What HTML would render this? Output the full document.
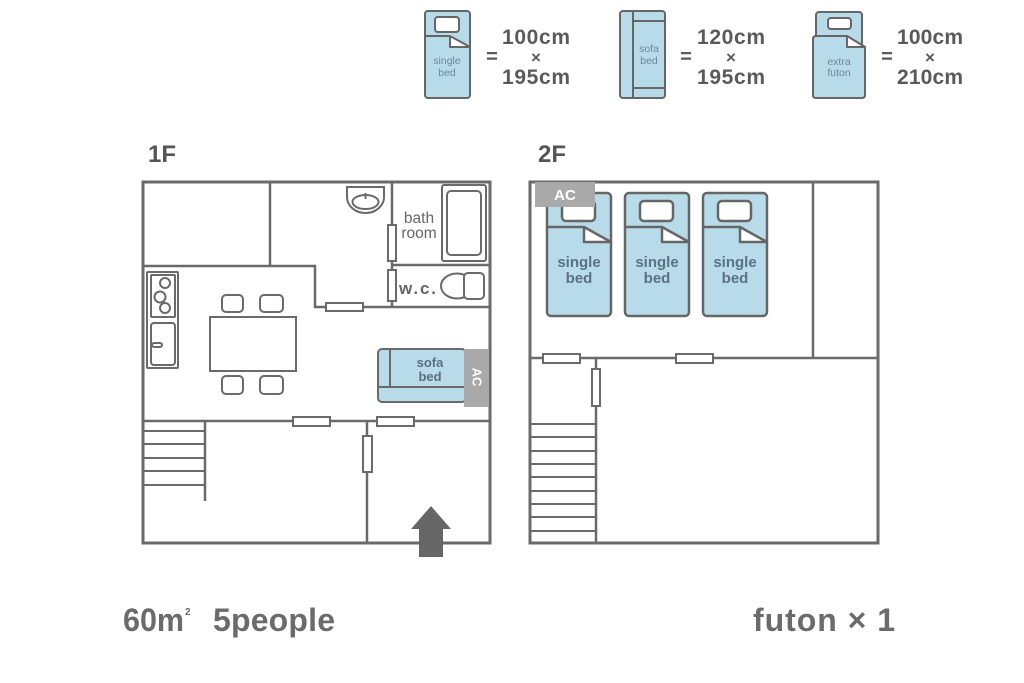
<!DOCTYPE html>
<html><head><meta charset="utf-8"><style>
html,body{margin:0;padding:0;background:#fff;}
svg{display:block;}
text{font-family:"Liberation Sans",sans-serif;}
</style></head><body>
<svg width="1024" height="683" viewBox="0 0 1024 683" xmlns="http://www.w3.org/2000/svg">
<rect width="1024" height="683" fill="#fff"/>

<!-- ===== Legend ===== -->
<g stroke="#666" stroke-width="2" stroke-linejoin="round">
  <!-- single bed -->
  <rect x="425" y="11" width="45" height="87" rx="3" fill="#b7dbe8"/>
  <rect x="435" y="17" width="24" height="15" rx="3" fill="#fff"/>
  <path d="M425 36 H450" fill="none"/>
  <path d="M450 36 L450 47 L470 47 Z" fill="#fff"/>
  <!-- sofa bed -->
  <rect x="620" y="11" width="45" height="87" rx="3" fill="#b7dbe8"/>
  <path d="M633 11 V98 M633 21 H665 M633 88 H665" fill="none"/>
  <!-- futon -->
  <rect x="816" y="12" width="46" height="40" rx="3" fill="#b7dbe8"/>
  <rect x="828" y="18" width="23" height="11" rx="3" fill="#fff"/>
  <path d="M816 36 H847 L865 47 V95 Q865 98 862 98 H816 Q813 98 813 95 V39 Q813 36 816 36 Z" fill="#b7dbe8"/>
  <path d="M847 36 L847 47 L865 47 Z" fill="#fff"/>
</g>
<g fill="#6f8799" font-size="10.5" text-anchor="middle">
  <text x="447" y="64">single</text>
  <text x="447" y="76">bed</text>
  <text x="649" y="52">sofa</text>
  <text x="649" y="64">bed</text>
  <text x="839" y="65">extra</text>
  <text x="839" y="76">futon</text>
</g>
<g fill="#5a5a5a" font-weight="bold" text-anchor="middle">
  <text x="492" y="63" font-size="20">=</text>
  <text x="536" y="44" font-size="21" textLength="68" lengthAdjust="spacing">100cm</text>
  <text x="536" y="63" font-size="17">×</text>
  <text x="536" y="84" font-size="21" textLength="68" lengthAdjust="spacing">195cm</text>

  <text x="686" y="63" font-size="20">=</text>
  <text x="731" y="44" font-size="21" textLength="68" lengthAdjust="spacing">120cm</text>
  <text x="731" y="63" font-size="17">×</text>
  <text x="731" y="84" font-size="21" textLength="68" lengthAdjust="spacing">195cm</text>

  <text x="887" y="63" font-size="20">=</text>
  <text x="930" y="44" font-size="21" textLength="66" lengthAdjust="spacing">100cm</text>
  <text x="930" y="63" font-size="17">×</text>
  <text x="930" y="84" font-size="21" textLength="66" lengthAdjust="spacing">210cm</text>
</g>

<!-- ===== Floor labels ===== -->
<g fill="#555" font-weight="bold" font-size="24">
  <text x="148" y="162">1F</text>
  <text x="538" y="162">2F</text>
</g>

<!-- ===== 1F ===== -->
<g stroke="#6a6a6a" fill="none">
  <rect x="143" y="182" width="347" height="361" stroke-width="3"/>
  <path stroke-width="2.5" d="M270 182 V266 M143 266 H315 V307 H490 M392 182 V307 M392 265 H490 M143 421 H490 M367 421 V543 M205 421 V501"/>
  <path stroke-width="2" d="M143 431 H205 M143 444 H205 M143 458 H205 M143 471 H205 M143 485 H205"/>
</g>
<g stroke="#6a6a6a" stroke-width="2" fill="#fff">
  <!-- doors -->
  <rect x="326" y="303" width="37" height="8"/>
  <rect x="388" y="225" width="8" height="36"/>
  <rect x="388" y="270" width="8" height="31"/>
  <rect x="293" y="417" width="37" height="9"/>
  <rect x="377" y="417" width="37" height="9"/>
  <rect x="363" y="436" width="9" height="36"/>
  <!-- bathtub -->
  <rect x="442" y="185" width="44" height="76" rx="2"/>
  <rect x="447" y="191" width="34" height="64" rx="4"/>
  <!-- wash basin -->
  <path d="M347 187 H384 V197 A18.5 16 0 0 1 347 197 Z"/>
  <ellipse cx="365.5" cy="202" rx="13" ry="7"/>
  <path d="M365.5 193 V199" fill="none"/>
  <!-- toilet -->
  <ellipse cx="457" cy="286" rx="16" ry="12.5"/>
  <rect x="464" y="273" width="20" height="26" rx="4"/>
  <!-- kitchen -->
  <rect x="147" y="272" width="31" height="96" rx="1"/>
  <rect x="151" y="275" width="24" height="42" rx="1"/>
  <circle cx="165" cy="283" r="5"/>
  <circle cx="160" cy="297" r="5.5"/>
  <circle cx="165" cy="308" r="5"/>
  <rect x="151" y="323" width="24" height="42" rx="3"/>
  <rect x="152" y="343" width="10" height="4" rx="2"/>
  <!-- table + chairs -->
  <rect x="210" y="317" width="86" height="54"/>
  <rect x="222" y="295" width="21" height="17" rx="4"/>
  <rect x="260" y="295" width="23" height="17" rx="4"/>
  <rect x="222" y="376" width="21" height="18" rx="4"/>
  <rect x="260" y="376" width="23" height="18" rx="4"/>
  <!-- sofa bed -->
  <rect x="378" y="349" width="88" height="53" rx="4" fill="#b7dbe8"/>
  <path d="M390 349 V387 M378 387 H464" fill="none"/>
</g>
<rect x="464" y="349" width="25" height="58" fill="#a9a9a9"/>
<text x="477" y="377" fill="#fff" font-size="13" font-weight="bold" text-anchor="middle" dominant-baseline="central" transform="rotate(90 477 377)">AC</text>
<g fill="#5b6f80" font-weight="bold" font-size="13" text-anchor="middle">
  <text x="430" y="367">sofa</text>
  <text x="430" y="381">bed</text>
</g>
<g fill="#666">
  <text x="419" y="223" font-size="15.5" text-anchor="middle">bath</text>
  <text x="419" y="238" font-size="15.5" text-anchor="middle">room</text>
  <text x="399" y="294" font-size="17" font-weight="bold" textLength="37" lengthAdjust="spacing">w.c.</text>
</g>
<polygon points="431,506 451,529 443,529 443,557 419,557 419,529 411,529" fill="#666"/>

<!-- ===== 2F ===== -->
<g stroke="#6a6a6a" fill="none">
  <rect x="530" y="182" width="348" height="361" stroke-width="3"/>
  <path stroke-width="2.5" d="M813 182 V358 M530 358 H878 M596 358 V543"/>
  <path stroke-width="2" d="M530 424 H596 M530 437 H596 M530 451 H596 M530 464 H596 M530 477 H596 M530 491 H596 M530 504 H596 M530 517 H596 M530 531 H596"/>
</g>
<g stroke="#6a6a6a" stroke-width="2" fill="#fff">
  <rect x="543" y="354" width="37" height="9"/>
  <rect x="676" y="354" width="37" height="9"/>
  <rect x="592" y="369" width="8" height="37"/>
</g>
<g stroke="#666" stroke-width="2.5" stroke-linejoin="round">
  <rect x="547" y="193" width="64" height="123" rx="4" fill="#b7dbe8"/>
  <rect x="562" y="201" width="33" height="20" rx="4" fill="#fff"/>
  <path d="M547 227 H584" fill="none"/>
  <path d="M584 227 L584 242 L611 242 Z" fill="#fff"/>

  <rect x="625" y="193" width="64" height="123" rx="4" fill="#b7dbe8"/>
  <rect x="640" y="201" width="33" height="20" rx="4" fill="#fff"/>
  <path d="M625 227 H662" fill="none"/>
  <path d="M662 227 L662 242 L689 242 Z" fill="#fff"/>

  <rect x="703" y="193" width="64" height="123" rx="4" fill="#b7dbe8"/>
  <rect x="718" y="201" width="33" height="20" rx="4" fill="#fff"/>
  <path d="M703 227 H740" fill="none"/>
  <path d="M740 227 L740 242 L767 242 Z" fill="#fff"/>
</g>
<g fill="#5b7184" font-weight="bold" font-size="15" text-anchor="middle">
  <text x="579" y="267">single</text>
  <text x="579" y="283">bed</text>
  <text x="657" y="267">single</text>
  <text x="657" y="283">bed</text>
  <text x="735" y="267">single</text>
  <text x="735" y="283">bed</text>
</g>
<rect x="535" y="182" width="60" height="25" fill="#a9a9a9"/>
<text x="565" y="200" fill="#fff" font-weight="bold" font-size="15" text-anchor="middle">AC</text>

<!-- ===== Bottom text ===== -->
<g fill="#6b6b6b" font-weight="bold" font-size="32">
  <text x="123" y="631" textLength="61" lengthAdjust="spacingAndGlyphs">60m</text>
  <text x="185" y="615" font-size="10">2</text>
  <text x="213" y="631" textLength="122" lengthAdjust="spacing">5people</text>
  <text x="753" y="631" textLength="142" lengthAdjust="spacing">futon × 1</text>
</g>
</svg>
</body></html>
